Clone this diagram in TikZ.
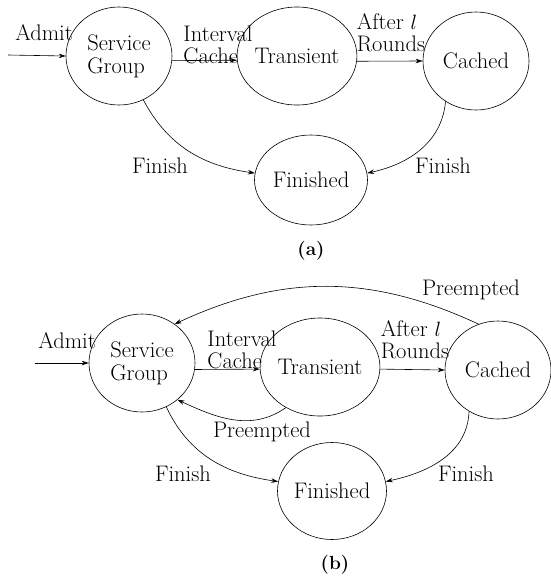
\documentclass[tikz,border=0pt]{standalone}
\usepackage{tikz}
\usetikzlibrary{arrows.meta,shapes.geometric}

\begin{document}
\begin{tikzpicture}[x=1pt,y=1pt,
  state/.style={draw, ellipse, line width=0.6pt, minimum width=106pt,
    minimum height=98pt, inner sep=0pt, align=left,
    font=\fontsize{22.5}{23}\selectfont},
  lbl/.style={align=left, inner sep=0pt, font=\fontsize{22.5}{22}\selectfont},
  trans/.style={-{Stealth[length=7pt,width=4.5pt]}, line width=0.6pt}]
\useasboundingbox (0,0) rectangle (551,-576);

% (a) without preemption
\node[state] (sgA) at (119,-56) {Service\\Group};
\node[state] (trA) at (297,-56) {Transient};
\node[state] (caA) at (476,-61) {Cached};
\node[state, minimum width=113pt, minimum height=90pt] (fiA) at (311,-180) {Finished};
\coordinate (inA) at (8,-55);

\draw[trans] (inA) -- (sgA.west);
\draw[trans] (sgA.-5) -- (trA.184);
\draw[trans] (trA.-5) -- (caA.west);
\draw[trans] (sgA.-61) to[out=-62, in=172] (fiA.173);
\draw[trans] (caA.-127) to[out=-95, in=12] (fiA.7);

\node[lbl] (admitA) at (44,-33) {Admit};
\node[lbl] (cacheA) at (218,-45) {Interval\\Cache};
\node[lbl] (roundsA) at (391,-33) {After $l$\\Rounds};
\node[lbl] (finlA) at (160,-166) {Finish};
\node[lbl] (finrA) at (443,-166) {Finish};
\node[font=\fontsize{19}{20}\selectfont\bfseries] (capA) at (311,-251) {(a)};

% (b) with preemption
\node[state] (sgB) at (142,-363) {Service\\Group};
\node[state] (trB) at (320,-367) {Transient};
\node[state] (caB) at (498,-370) {Cached};
\node[state, minimum width=109pt, minimum height=97pt] (fiB) at (332,-491) {Finished};
\coordinate (inB) at (35,-363);

\draw[trans] (inB) -- (sgB.west);
\draw[trans] (sgB.-7) -- (trB.182);
\draw[trans] (trB.-2) -- (caB.west);
\draw[trans] (caB.113) to[out=155, in=25] (sgB.50);
\draw[trans] (trB.230) to[out=215, in=-25] (sgB.-46);
\draw[trans] (sgB.-61) to[out=-65, in=172] (fiB.170);
\draw[trans] (caB.-125) to[out=-92, in=12] (fiB.10);

\node[lbl] (admitB) at (67,-341) {Admit};
\node[lbl] (cacheB) at (242,-350) {Interval\\Cache};
\node[lbl] (roundsB) at (415,-340) {After $l$\\Rounds};
\node[lbl] (preTop) at (471,-290) {Preempted};
\node[lbl] (preBot) at (262,-432) {Preempted};
\node[lbl] (finlB) at (183,-474) {Finish};
\node[lbl] (finrB) at (466,-474) {Finish};
\node[font=\fontsize{19}{20}\selectfont\bfseries] (capB) at (335,-565) {(b)};
\end{tikzpicture}
\end{document}
